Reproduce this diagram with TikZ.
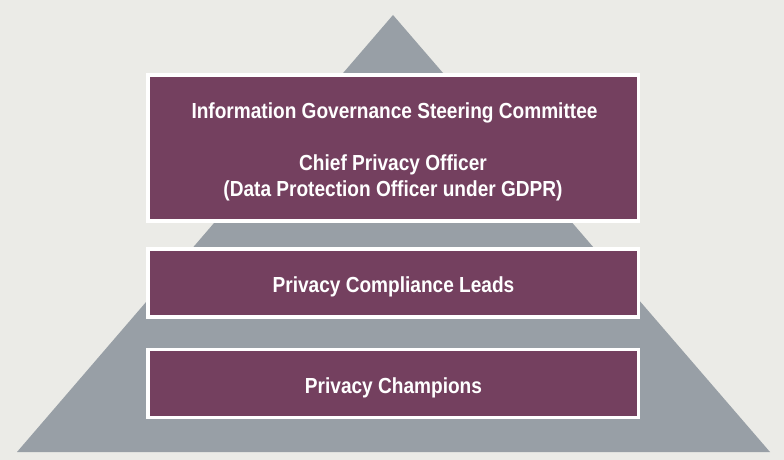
\documentclass[tikz,border=0pt]{standalone}
\usepackage{fontspec}
\setmainfont{Liberation Sans}[FakeStretch=0.875]
\definecolor{bgc}{HTML}{EBEBE7}
\definecolor{pyr}{HTML}{989FA6}
\definecolor{plum}{HTML}{74405F}
\begin{document}
\begin{tikzpicture}[x=1pt,y=-1pt,
  tier/.style={rectangle,fill=plum,draw=white,line width=3.5pt,inner sep=0pt,minimum width=490.5pt},
  lbl/.style={text=white,font=\fontsize{21.8}{25}\selectfont\bfseries,anchor=base,inner sep=0pt}]
\fill[bgc] (0,0) rectangle (784,460);
\useasboundingbox (0,0) rectangle (784,460);
\coordinate (apex) at (393,15);
\coordinate (bl) at (17,452);
\coordinate (br) at (770,452);
\fill[pyr] (bl) -- (apex) -- (br) -- cycle;
\node[tier,minimum height=146pt] (top) at (393.25,148) {};
\node[tier,minimum height=68pt] (mid) at (393.25,283) {};
\node[tier,minimum height=68pt] (bot) at (393.25,383.5) {};
\node[lbl] (igsc) at (394.5,118) {Information Governance Steering Committee};
\node[lbl] (cpo) at (393,170) {Chief Privacy Officer};
\node[lbl] (dpo) at (393,196) {(Data Protection Officer under GDPR)};
\node[lbl] (pcl) at (393.5,292) {Privacy Compliance Leads};
\node[lbl] (pc) at (393.5,393) {Privacy Champions};
\end{tikzpicture}
\end{document}
